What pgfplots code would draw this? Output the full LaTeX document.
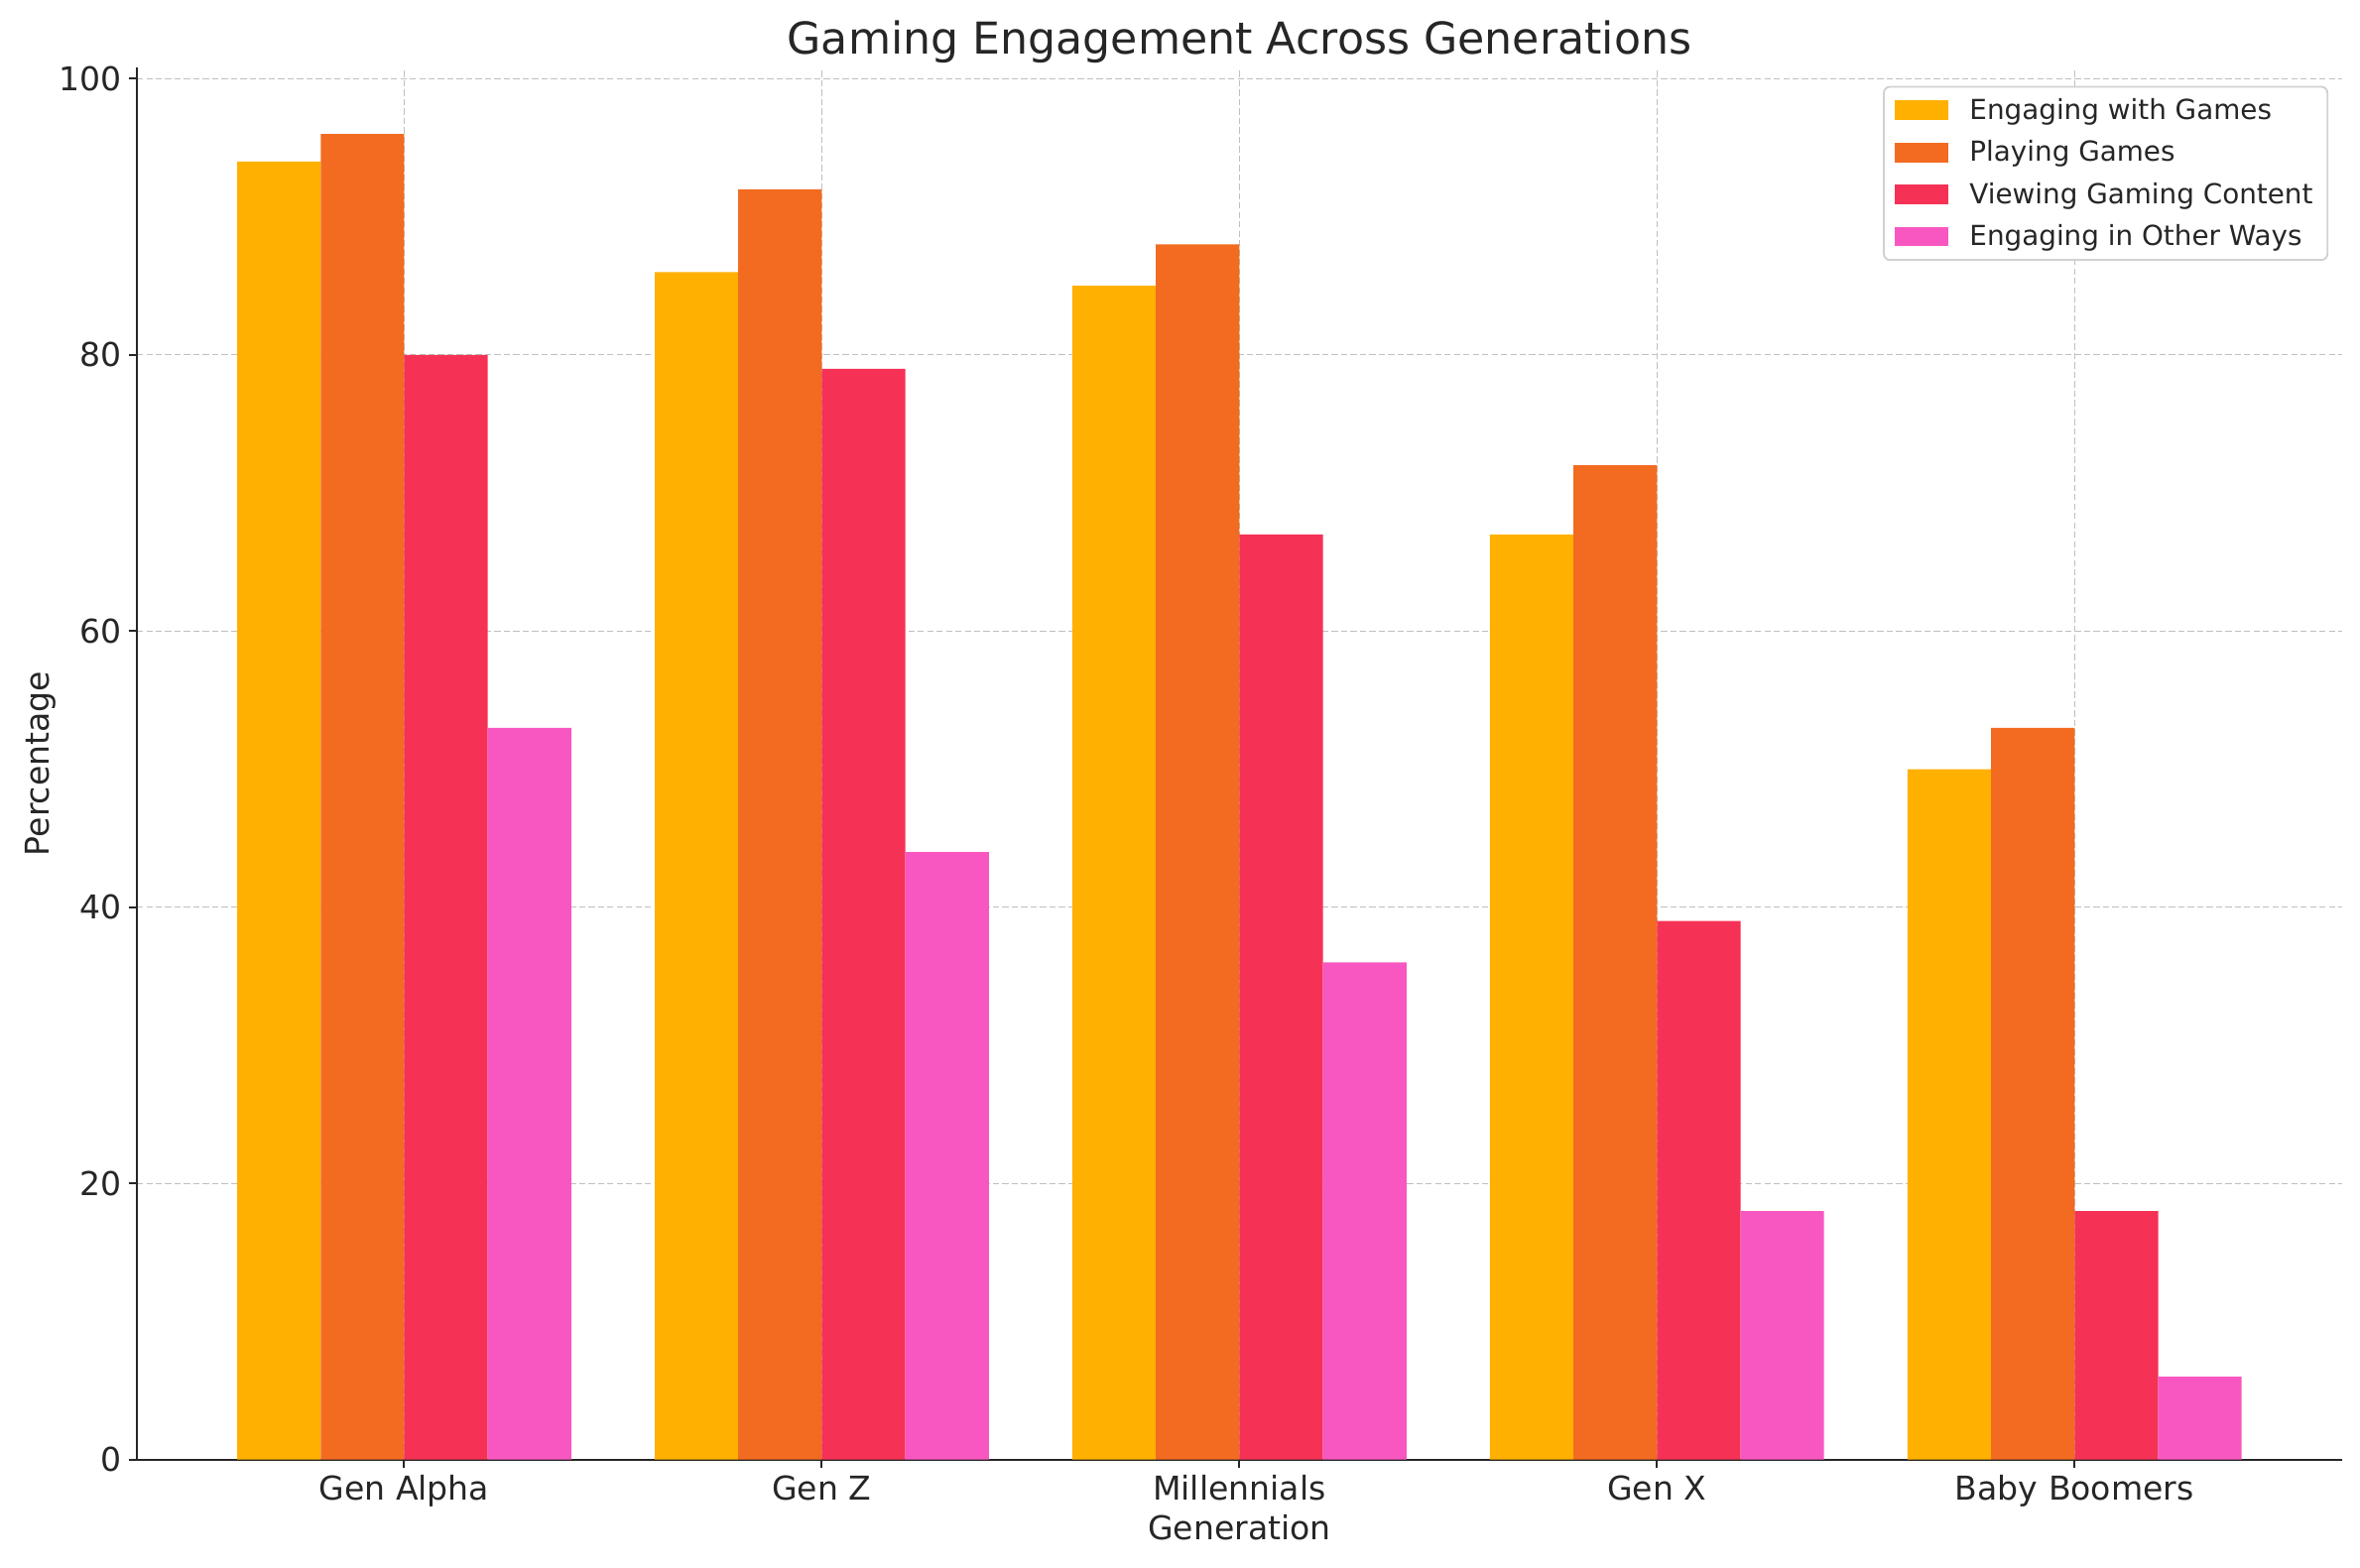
\documentclass[border=0pt]{standalone}
\usepackage{pgfplots}
\pgfplotsset{compat=1.18}
\usepackage{fontspec}
\setmainfont{DejaVu Sans}
\definecolor{cA}{HTML}{FFB000}
\definecolor{cB}{HTML}{F26B21}
\definecolor{cC}{HTML}{F53255}
\definecolor{cD}{HTML}{F857C1}
\definecolor{txt}{HTML}{262626}
\begin{document}
\begin{tikzpicture}
\useasboundingbox (0,0) rectangle (1128.96pt,749.8pt);
\begin{axis}[
  at={(65.5pt,51.4pt)}, anchor=south west,
  scale only axis, width=1054.8pt, height=666pt,
  xmin=-0.64, xmax=4.64, ymin=0, ymax=100.8,
  axis x line*=bottom, axis y line*=left,
  axis line style={line width=1pt, -, color=txt},
  xtick={0,1,2,3,4},
  xticklabels={Gen Alpha, Gen Z, Millennials, Gen X, Baby Boomers},
  ytick={0,20,40,60,80,100},
  tick align=outside, major tick length=4pt,
  tick style={line width=0.9pt, color=txt},
  ticklabel style={font=\fontsize{15.7}{18}\selectfont, text=txt},
  /pgf/number format/assume math mode=true,
  grid=major,
  major grid style={dash pattern=on 3pt off 1.5pt, color=black!25, line width=0.6pt},
  ybar, bar width=0.2,
  title={Gaming Engagement Across Generations},
  title style={font=\fontsize{21}{25}\selectfont, text=txt, at={(axis description cs:0.5,1.0216)}, anchor=center, yshift=-8pt},
  xlabel={Generation},
  xlabel style={font=\fontsize{15.7}{18}\selectfont, text=txt, at={(axis description cs:0.5,-0.0486)}, anchor=center},
  ylabel={Percentage},
  ylabel style={font=\fontsize{15.7}{18}\selectfont, text=txt, at={(axis description cs:-0.0435,0.5)}, anchor=center, rotate=0},
  legend style={at={(axis description cs:0.9939,0.987)}, anchor=north east,
    draw=black!18, line width=0.9pt, rounded corners=3pt, fill=white,
    font=\fontsize{13.2}{15.5}\selectfont, text=txt,
    inner xsep=5pt, inner ysep=3.5pt, row sep=4.6pt, column sep=8pt},
  legend cell align=left,
  legend image code/.code={\fill[#1, sharp corners] (0pt,-4.7pt) rectangle (26pt,4.7pt);},
]
\addplot[fill=cA, draw=none, bar shift=-0.3] coordinates {(0,94) (1,86) (2,85) (3,67) (4,50)};
\addplot[fill=cB, draw=none, bar shift=-0.1] coordinates {(0,96) (1,92) (2,88) (3,72) (4,53)};
\addplot[fill=cC, draw=none, bar shift=0.1] coordinates {(0,80) (1,79) (2,67) (3,39) (4,18)};
\addplot[fill=cD, draw=none, bar shift=0.3] coordinates {(0,53) (1,44) (2,36) (3,18) (4,6)};
\legend{Engaging with Games, Playing Games, Viewing Gaming Content, Engaging in Other Ways}
\end{axis}
\end{tikzpicture}
\end{document}
